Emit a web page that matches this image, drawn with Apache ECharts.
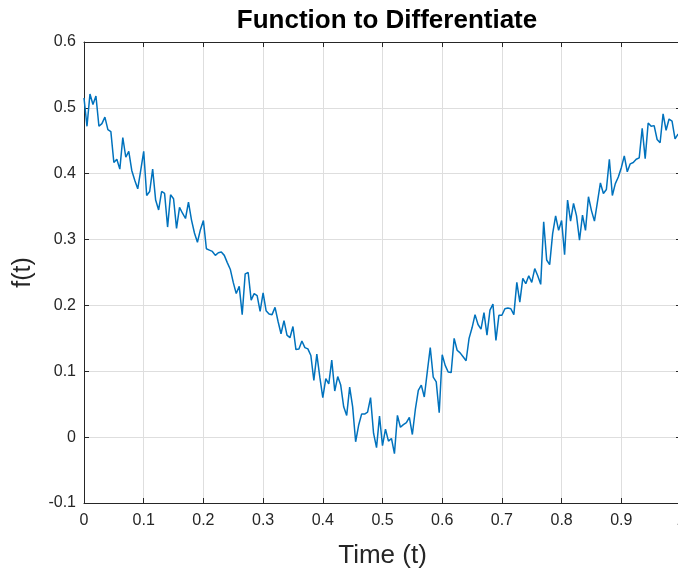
<!DOCTYPE html>
<html>
<head>
<meta charset="utf-8">
<script src="https://cdn.jsdelivr.net/npm/echarts@6/dist/echarts.min.js"></script>
<style>
  html, body { margin: 0; padding: 0; background: #ffffff; }
  #chart { width: 678px; height: 575px; }
</style>
</head>
<body>
<div id="chart"></div>
<script>
// sample spacing of the signal (t = 0:0.005:1)
const tStep = 0.005;

// noisy signal values, one per sample
const fValues = [
  0.515, 0.472, 0.521, 0.505, 0.518, 0.472, 0.476, 0.486, 0.467, 0.464,
  0.417, 0.422, 0.407, 0.455, 0.425, 0.434, 0.405, 0.390, 0.377, 0.405,
  0.434, 0.367, 0.373, 0.407, 0.360, 0.345, 0.373, 0.370, 0.319, 0.368,
  0.362, 0.317, 0.349, 0.340, 0.332, 0.357, 0.330, 0.310, 0.296, 0.315,
  0.329, 0.286, 0.284, 0.282, 0.276, 0.280, 0.281, 0.276, 0.265, 0.255,
  0.235, 0.218, 0.229, 0.186, 0.248, 0.250, 0.208, 0.218, 0.215, 0.191,
  0.219, 0.192, 0.187, 0.186, 0.197, 0.176, 0.157, 0.177, 0.155, 0.151,
  0.168, 0.133, 0.134, 0.146, 0.136, 0.134, 0.124, 0.086, 0.126, 0.091,
  0.060, 0.089, 0.081, 0.117, 0.070, 0.092, 0.079, 0.046, 0.033, 0.076,
  0.046, -0.007, 0.018, 0.035, 0.035, 0.038, 0.060, 0.006, -0.016, 0.032,
  -0.013, 0.012, -0.006, -0.002, -0.025, 0.033, 0.015, 0.019, 0.022, 0.030,
  0.004, 0.042, 0.071, 0.079, 0.061, 0.099, 0.136, 0.091, 0.084, 0.037,
  0.125, 0.109, 0.099, 0.098, 0.150, 0.132, 0.128, 0.122, 0.116, 0.150,
  0.166, 0.186, 0.171, 0.164, 0.189, 0.155, 0.193, 0.202, 0.147, 0.185,
  0.185, 0.195, 0.196, 0.195, 0.186, 0.235, 0.205, 0.241, 0.233, 0.245,
  0.235, 0.256, 0.245, 0.232, 0.327, 0.269, 0.262, 0.309, 0.336, 0.314,
  0.329, 0.277, 0.360, 0.328, 0.355, 0.336, 0.299, 0.337, 0.314, 0.365,
  0.344, 0.328, 0.357, 0.386, 0.370, 0.376, 0.422, 0.367, 0.385, 0.395,
  0.409, 0.427, 0.403, 0.415, 0.417, 0.422, 0.424, 0.469, 0.423, 0.477,
  0.472, 0.473, 0.452, 0.447, 0.491, 0.466, 0.483, 0.480, 0.453, 0.460,
  0.455
];

const xTicks = [0, 0.1, 0.2, 0.3, 0.4, 0.5, 0.6, 0.7, 0.8, 0.9, 1];
const yTicks = [-0.1, 0, 0.1, 0.2, 0.3, 0.4, 0.5, 0.6];

const points = fValues.map((v, i) => [+(i * tStep).toFixed(3), v]);

const axisColor = '#262626';
const gridColor = '#dedede';
const fontFamily = '"Liberation Sans", Arial, Helvetica, sans-serif';

const fmt = (v) => String(+v.toFixed(1));

let myChart = echarts.init(document.getElementById('chart'), null, { renderer: 'canvas' });

let option = {
    animation: false,
    backgroundColor: '#ffffff',
    title: {
        text: 'Function to Differentiate',
        left: 382,
        top: 3,
        textAlign: 'center',
        textStyle: {
            fontFamily: fontFamily,
            fontSize: 26,
            fontWeight: 'bold',
            color: '#000000'
        }
    },
    grid: {
        left: 84,
        right: -3,
        top: 42,
        bottom: 72,
        containLabel: false,
        outerBoundsMode: 'none'
    },
    xAxis: [
        {
            type: 'value',
            min: xTicks[0],
            max: xTicks[xTicks.length - 1],
            interval: 0.1,
            name: 'Time (t)',
            nameLocation: 'middle',
            nameGap: 40,
            nameTextStyle: { fontFamily: fontFamily, fontSize: 26, color: axisColor },
            axisLine: { show: true, onZero: false, lineStyle: { color: axisColor, width: 1 } },
            axisTick: { show: true, inside: true, length: 5, lineStyle: { color: axisColor } },
            axisLabel: { fontFamily: fontFamily, fontSize: 16, color: axisColor, margin: 10, formatter: fmt },
            splitLine: { show: true, lineStyle: { color: gridColor, width: 1 } }
        },
        {
            type: 'value',
            position: 'top',
            min: xTicks[0],
            max: xTicks[xTicks.length - 1],
            interval: 0.1,
            axisLine: { show: true, onZero: false, lineStyle: { color: axisColor, width: 1 } },
            axisTick: { show: true, inside: true, length: 5, lineStyle: { color: axisColor } },
            axisLabel: { show: false },
            splitLine: { show: false }
        }
    ],
    yAxis: [
        {
            type: 'value',
            min: yTicks[0],
            max: yTicks[yTicks.length - 1],
            interval: 0.1,
            name: 'f(t)',
            nameLocation: 'middle',
            nameGap: 48,
            nameTextStyle: { fontFamily: fontFamily, fontSize: 25, color: axisColor },
            axisLine: { show: true, onZero: false, lineStyle: { color: axisColor, width: 1 } },
            axisTick: { show: true, inside: true, length: 5, lineStyle: { color: axisColor } },
            axisLabel: { fontFamily: fontFamily, fontSize: 16, color: axisColor, margin: 8, formatter: fmt },
            splitLine: { show: true, lineStyle: { color: gridColor, width: 1 } }
        },
        {
            type: 'value',
            position: 'right',
            min: yTicks[0],
            max: yTicks[yTicks.length - 1],
            interval: 0.1,
            axisLine: { show: true, onZero: false, lineStyle: { color: axisColor, width: 1 } },
            axisTick: { show: true, inside: true, length: 5, lineStyle: { color: axisColor } },
            axisLabel: { show: false },
            splitLine: { show: false }
        }
    ],
    series: [
        {
            type: 'line',
            data: points,
            xAxisIndex: 0,
            yAxisIndex: 0,
            showSymbol: false,
            symbol: 'none',
            clip: true,
            lineStyle: { color: '#0072BD', width: 1.5 }
        }
    ]
};
option && myChart.setOption(option);
</script>
</body>
</html>
